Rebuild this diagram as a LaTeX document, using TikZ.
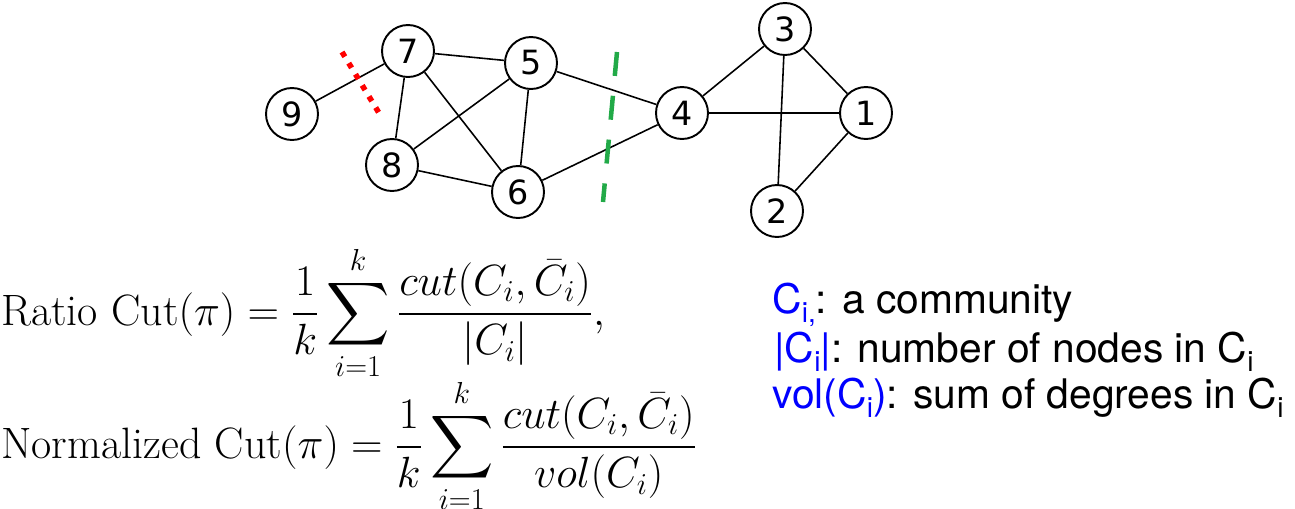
\documentclass[tikz,border=0pt]{standalone}
\usepackage{amsmath,amssymb}
\usepackage{fontspec}
\newfontfamily\nodefont{DejaVu Sans}
\newfontfamily\legendfont{TeX Gyre Heros}
\usetikzlibrary{positioning}
\definecolor{cutGreen}{RGB}{34,170,72}
\newcommand{\lsub}[1]{\raisebox{-0.24em}{\fontsize{16}{16}\selectfont #1}}

\begin{document}
\begin{tikzpicture}[x=0.02cm, y=-0.02cm,
    vertex/.style={draw, circle, line width=1.1pt, minimum size=1.04cm, inner sep=0pt,
      font=\nodefont\fontsize{19}{19}\selectfont},
    edge/.style={line width=0.9pt},
    legend/.style={anchor=base west, inner sep=0pt, font=\legendfont\fontsize{23.2}{28}\selectfont},
    formula/.style={anchor=base west, inner sep=0pt, font=\fontsize{25}{30}\selectfont}]
  \useasboundingbox (0,0) rectangle (1295,508);

  % Left community
  \node[vertex] (v7) at (408,51) {7};
  \node[vertex] (v5) at (531,63) {5};
  \node[vertex] (v9) at (292,114) {9};
  \node[vertex] (v8) at (392,165) {8};
  \node[vertex] (v6) at (518,192) {6};

  % Right community
  \node[vertex] (v4) at (682,113) {4};
  \node[vertex] (v3) at (785,29) {3};
  \node[vertex] (v1) at (866,113) {1};
  \node[vertex] (v2) at (777,211) {2};

  % Edges
  \draw[edge] (v9) -- (v7);
  \draw[edge] (v7) -- (v5);
  \draw[edge] (v7) -- (v8);
  \draw[edge] (v7) -- (v6);
  \draw[edge] (v5) -- (v8);
  \draw[edge] (v5) -- (v6);
  \draw[edge] (v8) -- (v6);
  \draw[edge] (v5) -- (v4);
  \draw[edge] (v6) -- (v4);
  \draw[edge] (v4) -- (v3);
  \draw[edge] (v4) -- (v1);
  \draw[edge] (v3) -- (v1);
  \draw[edge] (v3) -- (v2);
  \draw[edge] (v1) -- (v2);

  % Cuts
  \coordinate (redA) at (342,52);
  \coordinate (redB) at (379,113);
  \draw[red, line width=0.11cm, dash pattern=on 0.11cm off 0.15cm] (redA) -- (redB);
  \coordinate (greenA) at (617,52);
  \coordinate (greenB) at (603,202);
  \draw[cutGreen, line width=0.09cm, dash pattern=on 0.48cm off 0.4cm] (greenA) -- (greenB);

  % Objective functions
  \node[formula] (ratio) at (1,325)
    {$\displaystyle \mathrm{Ratio\ Cut}(\pi) = \frac{1}{k}\sum_{i=1}^{k}\frac{cut(C_i,\bar{C}_i)}{|C_i|},$};
  \node[formula] (ncut) at (1,458)
    {$\displaystyle \mathrm{Normalized\ Cut}(\pi) = \frac{1}{k}\sum_{i=1}^{k}\frac{cut(C_i,\bar{C}_i)}{vol(C_i)}$};

  % Legend
  \node[legend] (lg1) at (772,313) {\textcolor{blue}{C\lsub{i,}}: a community};
  \node[legend] (lg2) at (774,362) {\textcolor{blue}{|C\lsub{i}|}: number of nodes in C\lsub{i}};
  \node[legend] (lg3) at (772,408) {\textcolor{blue}{vol(C\lsub{i})}: sum of degrees in C\lsub{i}};
\end{tikzpicture}
\end{document}
